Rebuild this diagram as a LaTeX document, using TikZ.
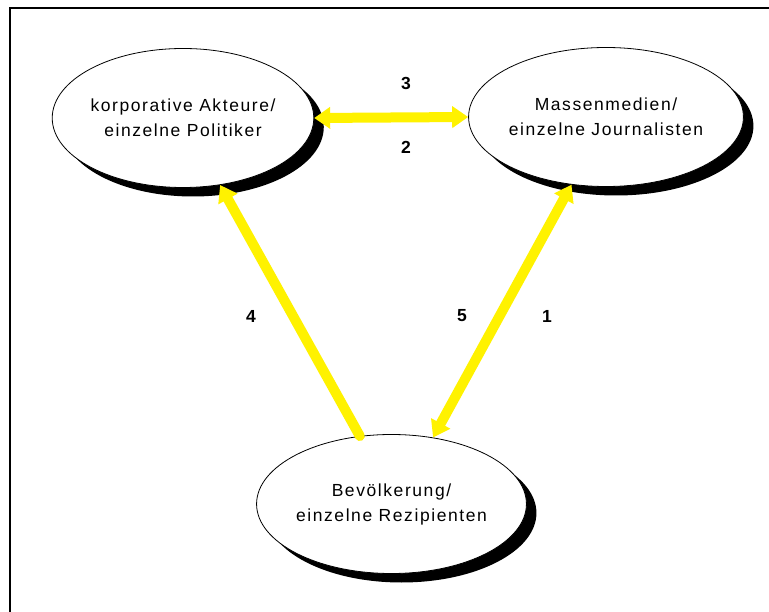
\documentclass[tikz,border=0pt]{standalone}
\usepackage{fontspec}
\setmainfont{Liberation Sans}
\newfontfamily\lblfont[LetterSpace=9]{Liberation Sans}
\usetikzlibrary{shapes.geometric,arrows.meta,shadows}
\tikzset{ytip/.tip={Triangle[width=21pt,length=16pt]}}
\begin{document}
\begin{tikzpicture}[x=1pt,y=-1pt,
  actor/.style={shape=ellipse, draw=black, line width=0.8pt, fill=white,
    minimum width=#1, minimum height=139pt, inner sep=0pt, align=center,
    font=\lblfont\fontsize{17.5}{25}\selectfont,
    drop shadow={shadow xshift=10pt, shadow yshift=-9pt, fill=black, opacity=1}},
  flow/.style={draw=yellow, line width=10pt},
  num/.style={font=\bfseries\fontsize{17.5}{18}\selectfont, inner sep=0pt}]
\useasboundingbox (0,0) rectangle (769,612);
\fill[white] (0,0) rectangle (769,612);
\draw[line width=2pt] (10,614) -- (10,8) -- (771,8);

\node[actor=260pt] (pol) at (183,118) {korporative Akteure/\\einzelne Politiker};
\node[actor=258pt] (med) at (606,117) {Massenmedien/\\einzelne Journalisten};
\node[actor=252pt] (bev) at (391.5,504) {Bevölkerung/\\einzelne Rezipienten};

\draw[flow, ytip-ytip] (pol.east) -- (med.west);
\draw[flow, line cap=round, -ytip] (bev.115.5) -- (pol.299.6);
\draw[flow, ytip-ytip] (med.243.4) -- (bev.58.5);

\node[num] (n3) at (406,83) {3};
\node[num] (n2) at (406,147) {2};
\node[num] (n4) at (251,316) {4};
\node[num] (n5) at (462,316) {5};
\node[num] (n1) at (547,316) {1};
\end{tikzpicture}
\end{document}
